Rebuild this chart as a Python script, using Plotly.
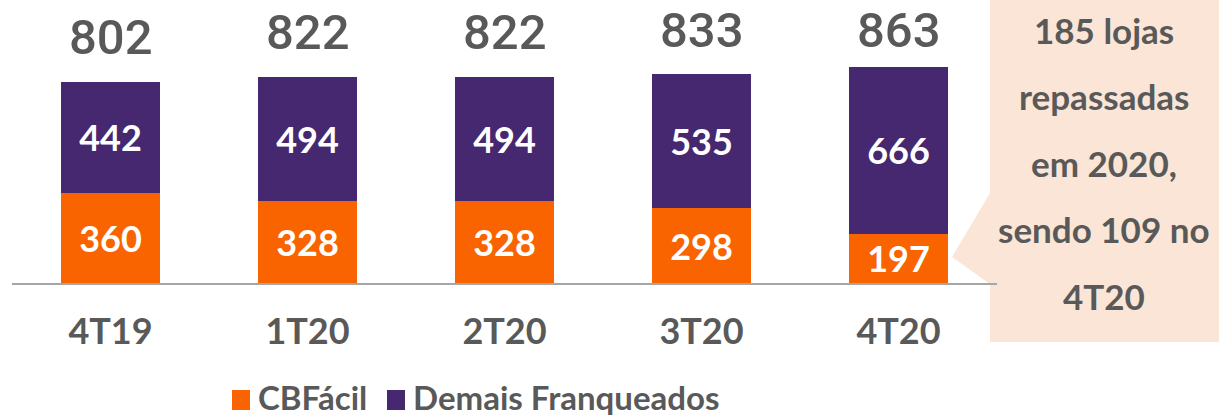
import plotly.graph_objects as go

categories = ["4T19", "1T20", "2T20", "3T20", "4T20"]
cbfacil = [360, 328, 328, 298, 197]
demais = [442, 494, 494, 535, 666]
totals = [802, 822, 822, 833, 863]
callout_lines = ["185 lojas", "repassadas", "em 2020,", "sendo 109 no", "4T20"]
legend_names = ["CBFácil", "Demais Franqueados"]

W, H = 1219, 417
MT, MB = 0, 134
PH = H - MT - MB
TOTAL_LABEL_CAP = 830  # total labels do not rise above this level

def px(x):
    return x / W

def py(y):
    return 1 - (y - MT) / PH

ORANGE = "#FA6400"
PURPLE = "#45286F"
GRAY = "#595959"
BOX = "#FAE5D6"

fig = go.Figure()
fig.add_trace(go.Bar(
    x=categories, y=cbfacil, name=legend_names[0],
    marker=dict(color=ORANGE, line=dict(width=0)),
    text=cbfacil, textposition="inside", insidetextanchor="middle",
    constraintext="none",
    textfont=dict(family="Lato", size=36, color="white", weight="bold"),
))
fig.add_trace(go.Bar(
    x=categories, y=demais, name=legend_names[1],
    marker=dict(color=PURPLE, line=dict(width=0)),
    text=demais, textposition="inside", insidetextanchor="middle",
    constraintext="none",
    textfont=dict(family="Lato", size=36, color="white", weight="bold"),
))

annotations = []
for c, t in zip(categories, totals):
    annotations.append(dict(
        x=c, y=min(t, TOTAL_LABEL_CAP), xref="x", yref="y", text=str(t), showarrow=False,
        yanchor="middle", yshift=45,
        font=dict(family="Roboto", size=49, color=GRAY, weight=500),
    ))

line_ys = [30, 96, 163, 229, 296]
for txt, ly in zip(callout_lines, line_ys):
    annotations.append(dict(
        x=px(1104), y=py(ly), xref="paper", yref="paper", text=txt,
        showarrow=False, xanchor="center", yanchor="middle",
        font=dict(family="Lato", size=35, color=GRAY, weight="bold"),
    ))

shapes = [
    dict(type="rect", xref="paper", yref="paper",
         x0=px(990), x1=px(1219), y0=py(342), y1=py(0),
         fillcolor=BOX, line=dict(width=0), layer="below"),
    dict(type="path", xref="paper", yref="paper",
         path=f"M {px(990)},{py(193)} L {px(952)},{py(257)} L {px(990)},{py(284)} Z",
         fillcolor=BOX, line=dict(width=0), layer="below"),
]

# manual legend
leg_sq_x = [232, 387]
leg_tx_x = [256, 411]
leg_colors = [ORANGE, PURPLE]
for sx, tx, col, name in zip(leg_sq_x, leg_tx_x, leg_colors, legend_names):
    shapes.append(dict(type="rect", xref="paper", yref="paper",
                       x0=px(sx), x1=px(sx + 18), y0=py(410), y1=py(390),
                       fillcolor=col, line=dict(width=0)))
    annotations.append(dict(
        x=px(tx), y=py(397), xref="paper", yref="paper", text=name,
        showarrow=False, xanchor="left", yanchor="middle",
        font=dict(family="Lato", size=33, color=GRAY, weight="bold"),
    ))

fig.update_layout(
    width=W, height=H,
    margin=dict(l=0, r=0, t=MT, b=MB),
    barmode="stack", bargap=0.5,
    plot_bgcolor="white", paper_bgcolor="white",
    showlegend=False,
    xaxis=dict(domain=[px(12), px(997)], range=[-0.5, 4.5],
               showline=True, linecolor="#A6A6A6", linewidth=2,
               ticks="", ticklabelstandoff=16,
               tickfont=dict(family="Lato", size=36, color=GRAY, weight="bold"),
               showgrid=False, zeroline=False, fixedrange=True),
    yaxis=dict(range=[0, PH / 0.2506], visible=False, showgrid=False, zeroline=False),
    annotations=annotations,
    shapes=shapes,
)

fig.write_html("out.html", config={"displayModeBar": False},
               post_script="document.body.style.margin='0';document.body.style.overflow='hidden';")
